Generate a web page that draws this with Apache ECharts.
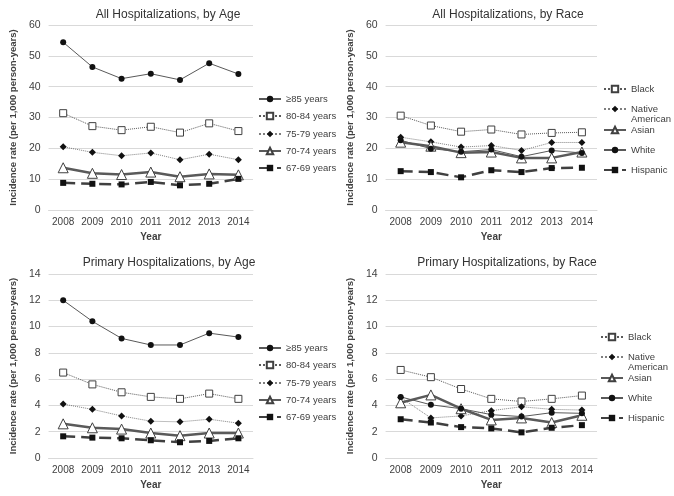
<!DOCTYPE html>
<html>
<head>
<meta charset="utf-8">
<script src="https://cdn.jsdelivr.net/npm/echarts@6/dist/echarts.min.js"></script>
<style>
  html, body { margin: 0; padding: 0; background: #fff; }
  .panel { position: absolute; width: 337px; height: 248px; }
</style>
</head>
<body>
<div class="panel" id="p1" style="left:0;top:0"></div>
<div class="panel" id="p2" style="left:337px;top:0"></div>
<div class="panel" id="p3" style="left:0;top:248px"></div>
<div class="panel" id="p4" style="left:337px;top:248px"></div>
<script>
// years on the x axis
const years = ["2008", "2009", "2010", "2011", "2012", "2013", "2014"];

const ageNames = ["≥85 years", "80-84 years", "75-79 years", "70-74 years", "67-69 years"];
const raceNames = ["Black", "Native American", "Asian", "White", "Hispanic"];

// All hospitalizations, by age
const allAge85 = [54.4, 46.4, 42.6, 44.2, 42.2, 47.6, 44.1];
const allAge80 = [31.4, 27.2, 25.9, 27.0, 25.1, 28.1, 25.6];
const allAge75 = [20.5, 18.7, 17.6, 18.5, 16.3, 18.1, 16.3];
const allAge70 = [13.7, 11.9, 11.5, 12.3, 10.8, 11.7, 11.4];
const allAge67 = [8.8, 8.5, 8.3, 9.1, 8.0, 8.5, 10.1];

// All hospitalizations, by race
const allBlack = [30.6, 27.4, 25.4, 26.1, 24.5, 25.0, 25.2];
const allNative = [23.6, 22.1, 20.4, 20.9, 19.3, 21.9, 21.9];
const allAsian = [22.0, 20.7, 18.6, 18.8, 16.9, 16.9, 18.8];
const allWhite = [22.6, 19.9, 18.9, 19.6, 17.3, 19.3, 18.5];
const allHispanic = [12.6, 12.3, 10.6, 12.9, 12.3, 13.6, 13.7];

// Primary hospitalizations, by age
const primAge85 = [12.0, 10.4, 9.1, 8.6, 8.6, 9.5, 9.2];
const primAge80 = [6.5, 5.6, 5.0, 4.65, 4.5, 4.9, 4.5];
const primAge75 = [4.1, 3.7, 3.2, 2.8, 2.75, 2.95, 2.65];
const primAge70 = [2.6, 2.3, 2.2, 1.9, 1.7, 1.9, 1.9];
const primAge67 = [1.65, 1.55, 1.5, 1.35, 1.2, 1.3, 1.5];

// Primary hospitalizations, by race
const primBlack = [6.7, 6.15, 5.25, 4.5, 4.3, 4.5, 4.75];
const primNative = [4.6, 3.05, 3.2, 3.6, 3.9, 3.7, 3.65];
const primAsian = [4.2, 4.8, 3.75, 2.9, 3.05, 2.7, 3.25];
const primWhite = [4.65, 4.05, 3.75, 3.3, 3.15, 3.45, 3.4];
const primHispanic = [2.95, 2.7, 2.35, 2.25, 1.95, 2.3, 2.5];

const FONT = "Liberation Sans, Arial, sans-serif";
const TXT = "#404040";

// marker / line styles
const styles = {
  circle: {
    symbol: "circle", symbolSize: 6,
    lineStyle: { color: "#595959", width: 1, type: "solid" },
    itemStyle: { color: "#111" },
  },
  hollowSquare: {
    symbol: "rect", symbolSize: 7,
    lineStyle: { color: "#595959", width: 1, type: "dotted" },
    itemStyle: { color: "#fff", borderColor: "#404040", borderWidth: 1 },
  },
  diamond: {
    symbol: "diamond", symbolSize: 7,
    lineStyle: { color: "#7f7f7f", width: 1, type: "dotted" },
    itemStyle: { color: "#111" },
  },
  triangle: {
    symbol: "triangle", symbolSize: 10,
    lineStyle: { color: "#5a5a5a", width: 2.5, type: "solid" },
    itemStyle: { color: "#fff", borderColor: "#404040", borderWidth: 1 },
  },
  square: {
    symbol: "rect", symbolSize: 6,
    lineStyle: { color: "#404040", width: 2.5, type: [12, 6] },
    itemStyle: { color: "#111" },
  },
};

function makePanel(id, cfg) {
  const chart = echarts.init(document.getElementById(id));
  const series = cfg.series.map((s) => ({
    name: s.name,
    type: "line",
    data: s.data,
    symbol: styles[s.style].symbol,
    symbolSize: styles[s.style].symbolSize,
    lineStyle: styles[s.style].lineStyle,
    itemStyle: styles[s.style].itemStyle,
    animation: false,
  }));

  // one legend per entry so each can sit at its own height
  const legends = cfg.legendTops.map((top, i) => ({
    data: [cfg.series[i].name],
    orient: "vertical",
    left: cfg.legendLeft,
    top: top,
    padding: 0,
    itemWidth: 22,
    itemHeight: 8,
    selectedMode: false,
    // blank first line keeps the icon level with "Native"
    formatter: (n) => (n === "Native American" ? " \nNative\nAmerican" : n),
    textStyle: {
      color: TXT,
      fontSize: 9.5,
      fontFamily: FONT,
      lineHeight: 10,
    },
  }));

  chart.setOption({
    backgroundColor: "#fff",
    title: {
      text: cfg.title,
      left: cfg.titleX,
      top: 4,
      textAlign: "center",
      textStyle: { color: "#333", fontSize: 12, fontWeight: "normal", fontFamily: FONT },
    },
    grid: { left: cfg.gridLeft, right: cfg.gridRight, top: cfg.gridTop, bottom: 38 },
    legend: legends,
    xAxis: {
      type: "category",
      data: years,
      name: "Year",
      nameLocation: "middle",
      nameGap: 22,
      nameTextStyle: { color: TXT, fontSize: 10, fontWeight: "bold", fontFamily: FONT },
      axisLine: { lineStyle: { color: "#d9d9d9" } },
      axisTick: { show: false },
      axisLabel: { color: TXT, fontSize: 10, fontFamily: FONT, margin: 7 },
    },
    yAxis: {
      type: "value",
      min: 0,
      max: cfg.yMax,
      interval: cfg.yInterval,
      name: "Incidence rate (per 1,000 person-years)",
      nameLocation: "middle",
      nameGap: 24,
      nameTextStyle: { color: TXT, fontSize: 9.5, fontWeight: "bold", fontFamily: FONT },
      axisLine: { show: false },
      axisTick: { show: false },
      axisLabel: { color: TXT, fontSize: 10.5, fontFamily: FONT, margin: 8 },
      splitLine: { lineStyle: { color: "#d9d9d9", width: 1 } },
    },
    series: series,
  });
}

const ageTops = [94, 111, 129, 146, 163];
const raceTops = [84, 94, 125, 145, 165];

makePanel("p1", {
  title: "All Hospitalizations, by Age",
  titleX: 163, gridLeft: 40, gridRight: 84, gridTop: 25,
  yMax: 60, yInterval: 10,
  legendLeft: 258, legendTops: ageTops,
  series: [
    { name: ageNames[0], data: allAge85, style: "circle" },
    { name: ageNames[1], data: allAge80, style: "hollowSquare" },
    { name: ageNames[2], data: allAge75, style: "diamond" },
    { name: ageNames[3], data: allAge70, style: "triangle" },
    { name: ageNames[4], data: allAge67, style: "square" },
  ],
});

makePanel("p2", {
  title: "All Hospitalizations, by Race",
  titleX: 166, gridLeft: 39, gridRight: 77, gridTop: 25,
  yMax: 60, yInterval: 10,
  legendLeft: 266, legendTops: raceTops,
  series: [
    { name: raceNames[0], data: allBlack, style: "hollowSquare" },
    { name: raceNames[1], data: allNative, style: "diamond" },
    { name: raceNames[2], data: allAsian, style: "triangle" },
    { name: raceNames[3], data: allWhite, style: "circle" },
    { name: raceNames[4], data: allHispanic, style: "square" },
  ],
});

makePanel("p3", {
  title: "Primary Hospitalizations, by Age",
  titleX: 164, gridLeft: 40, gridRight: 84, gridTop: 26,
  yMax: 14, yInterval: 2,
  legendLeft: 258, legendTops: ageTops.map((t) => t + 1),
  series: [
    { name: ageNames[0], data: primAge85, style: "circle" },
    { name: ageNames[1], data: primAge80, style: "hollowSquare" },
    { name: ageNames[2], data: primAge75, style: "diamond" },
    { name: ageNames[3], data: primAge70, style: "triangle" },
    { name: ageNames[4], data: primAge67, style: "square" },
  ],
});

makePanel("p4", {
  title: "Primary Hospitalizations, by Race",
  titleX: 165, gridLeft: 40, gridRight: 77, gridTop: 26,
  yMax: 14, yInterval: 2,
  legendLeft: 263, legendTops: raceTops,
  series: [
    { name: raceNames[0], data: primBlack, style: "hollowSquare" },
    { name: raceNames[1], data: primNative, style: "diamond" },
    { name: raceNames[2], data: primAsian, style: "triangle" },
    { name: raceNames[3], data: primWhite, style: "circle" },
    { name: raceNames[4], data: primHispanic, style: "square" },
  ],
});
</script>
</body>
</html>
